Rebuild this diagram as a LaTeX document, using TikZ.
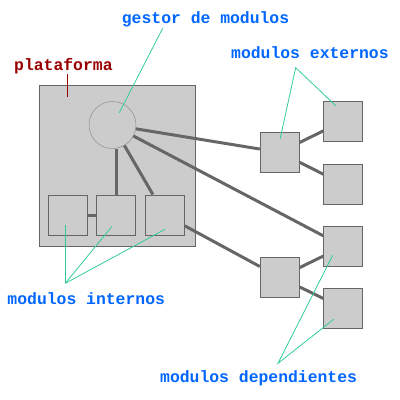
\documentclass[tikz,border=0pt]{standalone}
\usepackage{fontspec}
\setmonofont{Liberation Mono}
\definecolor{gris}{HTML}{666666}
\definecolor{relleno}{HTML}{CCCCCC}
\definecolor{azul}{HTML}{0066FF}
\definecolor{rojo}{HTML}{990000}
\definecolor{verde}{HTML}{33CC99}
\tikzset{
  modulo/.style={draw=gris,fill=relleno,line width=1pt,inner sep=0pt,minimum width=39pt,minimum height=40pt},
  enlace/.style={draw=gris,line width=3pt},
  guia/.style={draw=verde,line width=0.8pt},
  rotulo/.style={font=\ttfamily\bfseries\fontsize{16.4}{18}\selectfont,text=azul,anchor=base west,inner sep=0pt}
}
\begin{document}
\begin{tikzpicture}[x=1pt,y=-1pt]
      \useasboundingbox (0,0) rectangle (400,400);
      \node[draw=gris,fill=relleno,line width=1pt,minimum width=155.5pt,minimum height=161pt] (plataforma) at (117.25,165.5) {};
      \draw
        (112.5,125) node[circle,draw=gris!80,fill=relleno,minimum size=47pt,inner sep=0pt] (gestor){}
        (67.8,215) node[modulo] (int1){}
        (116.3,215) node[modulo] (int2){}
        (164.8,215) node[modulo] (int3){}
        (279.8,152.3) node[modulo] (ext1){}
        (343.3,121) node[modulo] (ext2){}
        (343.3,184.3) node[modulo] (ext3){}
        (279.8,277.3) node[modulo] (dep1){}
        (343.3,246.3) node[modulo] (dep2){}
        (343.3,308.2) node[modulo] (dep3){};
      \begin{scope}[enlace]
        \draw (gestor) to (ext1);
        \draw (gestor) to (dep2);
        \draw (int2.north) to (int2 |- gestor.south);
        \draw (gestor) to (int3);
        \draw (int1) to (int2);
        \draw (int3) to (dep1);
        \draw (ext1) to (ext2);
        \draw (ext1) to (ext3);
        \draw (dep1) to (dep2);
        \draw (dep1) to (dep3);
      \end{scope}
      % rotulos
      \node[rotulo,text=rojo] (lplat) at (14,70.7) {plataforma};
      \node[rotulo] (lgestor) at (121.7,23.5) {gestor de modulos};
      \node[rotulo] (lext) at (231,58.5) {modulos externos};
      \node[rotulo] (lint) at (7.3,304) {modulos internos};
      \node[rotulo] (ldep) at (160,382.7) {modulos dependientes};
      \coordinate (pplat) at (67.3,74);
      \coordinate (qplat) at (67.3,97);
      \coordinate (pgestor) at (162.7,28.3);
      \coordinate (qgestor) at (119.3,112.7);
      \coordinate (pext) at (295.7,67.7);
      \coordinate (qext1) at (280,139.3);
      \coordinate (qext2) at (335.7,105.7);
      \coordinate (pint) at (65.3,283.3);
      \coordinate (qint1) at (65.3,225);
      \coordinate (qint2) at (111.7,226.7);
      \coordinate (qint3) at (165,229.3);
      \coordinate (pdep) at (278,363.3);
      \coordinate (qdep2) at (332.7,255.3);
      \coordinate (qdep3) at (333.7,319.3);
      \draw[rojo,line width=1pt] (pplat) -- (qplat);
      \begin{scope}[guia]
        \draw (pgestor) -- (qgestor);
        \draw (qext1) -- (pext) -- (qext2);
        \draw (pint) -- (qint1);
        \draw (pint) -- (qint2);
        \draw (pint) -- (qint3);
        \draw (qdep2) -- (pdep) -- (qdep3);
      \end{scope}
    \end{tikzpicture}
\end{document}
